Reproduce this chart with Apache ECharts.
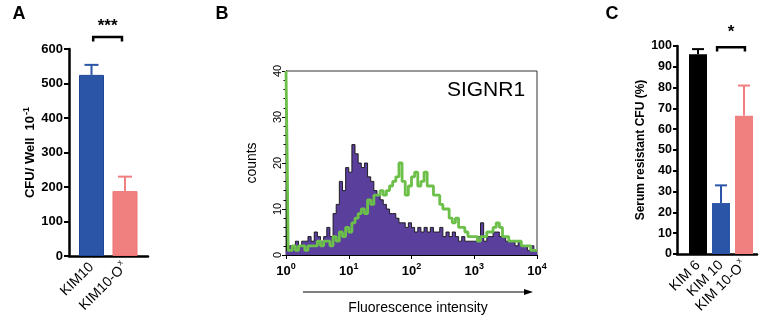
<!DOCTYPE html>
<html><head><meta charset="utf-8">
<script src="https://cdn.jsdelivr.net/npm/echarts@6/dist/echarts.min.js"></script>
<style>html,body{margin:0;padding:0;background:#fff}#c{width:765px;height:323px}</style>
</head><body><div id="c"></div>
<script>
// ---- Panel A data ----
const catsA = ['KIM10', 'KIM10-O'];
const valuesA = [525, 188];
const semA = [29, 42];
const colorsA = ['#2b56a8', '#f07f80'];

// ---- Panel B data (histogram, bins of 0.05 decade starting at 10^0) ----
const binW = 0.05;
const purpleCounts = [1,2,2,3,2,3,3,4,3,5, 4,3,4,6,4,9,11,16,14,19, 18,24,22,20,19,20,17,16,14,13,
  12,11,10,9,9,8,7,7,6,7, 6,5,6,5,6,5,6,5,5,6, 4,5,4,5,4,3,4,3,3,3,
  3,4,7,3,4,4,5,5,4,4, 3,3,3,2,3,2,2,1,2,1];
const greenLeadX = [0, 0.02, 0.035];
const greenLeadY = [40, 20, 1];
const greenCounts = [1,2,1,2,2,1,2,2,2, 3,2,3,3,2,4,3,5,4,6, 5,7,8,9,10,9,12,11,13,13,
  14,13,14,15,16,17,20,16,13,15, 17,18,15,16,18,15,15,13,13,11,
  10,10,8,7,8,6,6,5,4,4, 4,3,4,4,5,5,6,7,6,4, 4,3,3,3,3,2,2,2,1,1];

// ---- Panel C data ----
const catsC = ['KIM 6', 'KIM 10', 'KIM 10-O'];
const valuesC = [96, 24.5, 66.5];
const semC = [2.5, 8.5, 14.5];
const colorsC = ['#000000', '#2b56a8', '#f07f80'];

const FONT = '"Liberation Sans", Arial, sans-serif';
const chart = echarts.init(document.getElementById('c'), null, {renderer: 'canvas'});

function errSeries(xi, yi, vals, sems, colors, cap) {
  return {
    type: 'custom', xAxisIndex: xi, yAxisIndex: yi, silent: true, z: 1,
    data: vals.map((v, i) => [i, v, sems[i]]),
    renderItem: function (params, api) {
      const x = api.value(0), v = api.value(1), e = api.value(2);
      const p0 = api.coord([x, v]), p1 = api.coord([x, v + e]);
      const c = colors[params.dataIndex];
      return {type: 'group', children: [
        {type: 'line', shape: {x1: p0[0], y1: p0[1], x2: p1[0], y2: p1[1]}, style: {stroke: c, lineWidth: 2}},
        {type: 'line', shape: {x1: p1[0] - cap / 2, y1: p1[1], x2: p1[0] + cap / 2, y2: p1[1]}, style: {stroke: c, lineWidth: 2}}
      ]};
    }
  };
}

function bracketSeries(xi, yi, x1, x2, y, yLeg, yText, text) {
  return {
    type: 'custom', xAxisIndex: xi, yAxisIndex: yi, silent: true, clip: false,
    data: [[x1, x2, y, yLeg, yText]],
    renderItem: function (params, api) {
      const a = api.coord([api.value(0), api.value(2)]);
      const b = api.coord([api.value(1), api.value(2)]);
      const aL = api.coord([api.value(0), api.value(3)]);
      const t = api.coord([(api.value(0) + api.value(1)) / 2, api.value(4)]);
      return {type: 'group', children: [
        {type: 'polyline', shape: {points: [[aL[0], aL[1]], [a[0], a[1]], [b[0], b[1]], [b[0], aL[1]]]},
          style: {stroke: '#000', lineWidth: 2.5, fill: null}},
        {type: 'text', x: t[0], y: t[1], style: {text: text, font: 'bold 17px ' + FONT, fill: '#000', align: 'center', verticalAlign: 'middle'}}
      ]};
    }
  };
}

const labelRich = {
  n: {fontSize: 14, fontFamily: FONT, color: '#000'},
  s: {fontSize: 8, fontFamily: FONT, color: '#000', verticalAlign: 'top', padding: [0, 0, 10, 1]}
};

const option = {
  animation: false,
  backgroundColor: '#fff',
  grid: [
    {left: 69, top: 49, width: 79, height: 207},
    {left: 286, top: 71, width: 251, height: 184, show: true, borderColor: '#333', borderWidth: 1, backgroundColor: 'transparent'},
    {left: 677, top: 46, width: 80, height: 208}
  ],
  xAxis: [
    {gridIndex: 0, type: 'value', min: -0.672, max: 1.687,
      axisLine: {onZero: false, lineStyle: {color: '#000', width: 2.5}}, axisTick: {show: false}, splitLine: {show: false},
      axisLabel: {customValues: [0, 1], rotate: 45, margin: 9, interval: 0,
        formatter: v => v === 1 ? '{n|' + catsA[1] + '}{s|x}' : '{n|' + catsA[Math.round(v)] + '}', rich: labelRich}},
    {gridIndex: 1, type: 'value', min: 0, max: 4, interval: 1,
      axisLine: {onZero: false, lineStyle: {color: '#000', width: 1}},
      axisTick: {show: true, length: 4, lineStyle: {color: '#000'}}, splitLine: {show: false},
      axisLabel: {margin: 7, formatter: v => '{b|10}{s|' + v + '}',
        rich: {b: {fontSize: 13, fontWeight: 'bold', fontFamily: FONT, color: '#000'},
               s: {fontSize: 9, fontWeight: 'bold', fontFamily: FONT, color: '#000', verticalAlign: 'top', padding: [0, 0, 10, 0]}}}},
    {gridIndex: 2, type: 'value', min: -0.913, max: 2.565,
      axisLine: {onZero: false, lineStyle: {color: '#000', width: 2.5}}, axisTick: {show: false}, splitLine: {show: false},
      axisLabel: {customValues: [0, 1, 2], rotate: 45, margin: 9, interval: 0,
        formatter: v => v === 2 ? '{n|' + catsC[2] + '}{s|x}' : '{n|' + catsC[Math.round(v)] + '}', rich: labelRich}}
  ],
  yAxis: [
    {gridIndex: 0, type: 'value', min: 0, max: 600, interval: 100,
      name: '{t|CFU/ Well  10}{u|-1}', nameLocation: 'middle', nameGap: 27,
      nameTextStyle: {rich: {t: {fontSize: 13, fontWeight: 'bold', fontFamily: FONT, color: '#000'},
        u: {fontSize: 9, fontWeight: 'bold', fontFamily: FONT, color: '#000', verticalAlign: 'top', padding: [0, 0, 9, 1]}}},
      axisLine: {show: true, onZero: false, lineStyle: {color: '#000', width: 2.5}},
      axisTick: {show: true, length: 5, lineStyle: {color: '#000', width: 2}},
      splitLine: {show: false},
      axisLabel: {margin: 6, fontSize: 13, fontWeight: 'bold', fontFamily: FONT, color: '#000'}},
    {gridIndex: 1, type: 'value', min: 0, max: 40, interval: 10,
      name: 'counts', nameLocation: 'middle', nameGap: 27,
      nameTextStyle: {fontSize: 14, fontFamily: FONT, color: '#000'},
      axisLine: {show: true, onZero: false, lineStyle: {color: '#000', width: 1}},
      axisTick: {show: true, length: 4, lineStyle: {color: '#000'}},
      minorTick: {show: true, splitNumber: 5, length: 2.5, lineStyle: {color: '#000'}},
      splitLine: {show: false},
      axisLabel: {rotate: 90, margin: 3, fontSize: 11, fontFamily: FONT, color: '#000'}},
    {gridIndex: 2, type: 'value', min: 0, max: 100, interval: 10,
      name: 'Serum resistant CFU (%)', nameLocation: 'middle', nameGap: 30,
      nameTextStyle: {fontSize: 12, fontWeight: 'bold', fontFamily: FONT, color: '#000'},
      axisLine: {show: true, onZero: false, lineStyle: {color: '#000', width: 2.5}},
      axisTick: {show: true, length: 4, lineStyle: {color: '#000', width: 2}},
      splitLine: {show: false},
      axisLabel: {margin: 5, fontSize: 12.5, fontWeight: 'bold', fontFamily: FONT, color: '#000'}}
  ],
  series: [
    {type: 'bar', xAxisIndex: 0, yAxisIndex: 0, barWidth: 25, z: 2,
      data: valuesA.map((v, i) => ({value: [i, v], itemStyle: {color: colorsA[i], borderColor: i === 0 ? '#1e4596' : '#ee7476', borderWidth: 1}}))},
    errSeries(0, 0, valuesA, semA, colorsA, 14),
    bracketSeries(0, 0, 0.05, 0.91, 635, 622, 667, '***'),

    {type: 'line', xAxisIndex: 1, yAxisIndex: 1, step: 'end', symbol: 'none', clip: true, z: 2,
      data: purpleCounts.map((c, i) => [i * binW, c]).concat([[4, purpleCounts[purpleCounts.length - 1]]]),
      lineStyle: {color: '#111', width: 0.9},
      areaStyle: {color: '#5b3f9d', opacity: 1}},
    {type: 'line', xAxisIndex: 1, yAxisIndex: 1, step: 'end', symbol: 'none', clip: true, z: 3,
      data: greenLeadX.map((x, i) => [x, greenLeadY[i]])
        .concat(greenCounts.map((c, i) => [(i + 1) * binW, c]))
        .concat([[4, greenCounts[greenCounts.length - 1]]]),
      lineStyle: {color: '#6cc04a', width: 2.8}},

    {type: 'bar', xAxisIndex: 2, yAxisIndex: 2, barWidth: 18, z: 2,
      data: valuesC.map((v, i) => ({value: [i, v], itemStyle: {color: colorsC[i]}}))},
    errSeries(2, 2, valuesC, semC, colorsC, 12),
    bracketSeries(2, 2, 0.83, 2.04, 99.4, 97.4, 106.5, '*')
  ],
  graphic: [
    {type: 'text', x: 19, y: 14, style: {text: 'A', font: 'bold 18px ' + FONT, fill: '#000', align: 'center', verticalAlign: 'middle'}},
    {type: 'text', x: 222, y: 14, style: {text: 'B', font: 'bold 18px ' + FONT, fill: '#000', align: 'center', verticalAlign: 'middle'}},
    {type: 'text', x: 612, y: 14, style: {text: 'C', font: 'bold 18px ' + FONT, fill: '#000', align: 'center', verticalAlign: 'middle'}},
    {type: 'text', x: 486, y: 90, style: {text: 'SIGNR1', font: '21px ' + FONT, fill: '#000', align: 'center', verticalAlign: 'middle'}},
    {type: 'line', shape: {x1: 303, y1: 292, x2: 526, y2: 292}, style: {stroke: '#000', lineWidth: 1}},
    {type: 'polygon', shape: {points: [[533, 292], [524, 289], [524, 295]]}, style: {fill: '#000'}},
    {type: 'text', x: 418, y: 308, style: {text: 'Fluorescence intensity', font: '14px ' + FONT, fill: '#000', align: 'center', verticalAlign: 'middle'}}
  ]
};
chart.setOption(option);
</script></body></html>
